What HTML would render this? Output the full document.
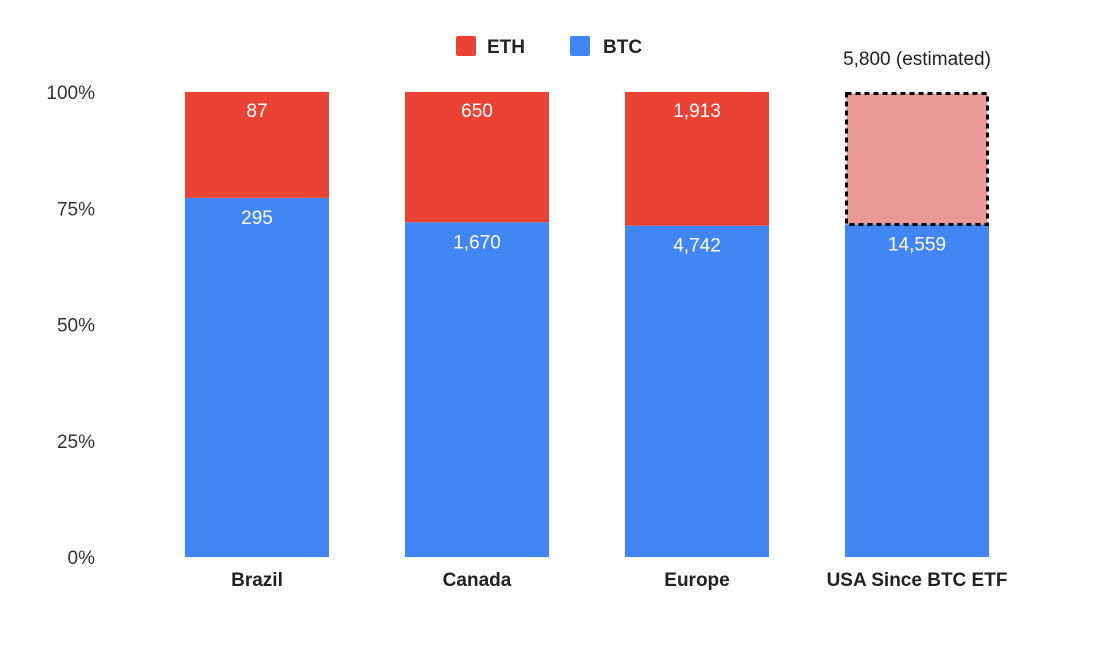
<!DOCTYPE html>
<html><head><meta charset="utf-8"><style>
body{margin:0;background:#fff;font-family:"Liberation Sans",Arial,sans-serif}
svg text{font-family:"Liberation Sans",Arial,sans-serif}
</style></head><body>
<svg id="chart" width="1106" height="651" xmlns="http://www.w3.org/2000/svg">
<rect width="1106" height="651" fill="#fff"/>
<g id="legend">
<rect x="456" y="36" width="20" height="20" rx="2" fill="#EA4335"/>
<text x="487" y="53" font-size="19" font-weight="bold" fill="#222">ETH</text>
<rect x="570" y="36" width="20" height="20" rx="2" fill="#4285F4"/>
<text x="603" y="53" font-size="19" font-weight="bold" fill="#222">BTC</text>
</g>
<g id="axis"></g><g id="bars"></g>
</svg>
<script>
const categories=["Brazil","Canada","Europe","USA Since BTC ETF"];
const btcValues=[295,1670,4742,14559];
const ethValues=[87,650,1913,5800];
const ethLabels=["87","650","1,913",""];
const btcLabels=["295","1,670","4,742","14,559"];
const estimated=[false,false,false,true];
const yTicks=[0,25,50,75,100];
const NS="http://www.w3.org/2000/svg";
const y0=557,y1=92,x0=185,step=220,bw=144;
const y=p=>y0-(y0-y1)*p/100;
const xb=i=>x0+i*step;
function mk(t,a,parent){const e=document.createElementNS(NS,t);for(const k in a)e.setAttribute(k,a[k]);parent.appendChild(e);return e;}
const ax=document.getElementById('axis'),bars=document.getElementById('bars');
yTicks.forEach(t=>{const e=mk('text',{x:95,y:y(t)+7,'text-anchor':'end','font-size':19,fill:'#333'},ax);e.textContent=t+'%';

});
categories.forEach((c,i)=>{
 const tot=btcValues[i]+ethValues[i];const bp=btcValues[i]/tot*100;
 const xi=xb(i);
 const b=mk('rect',{x:xi,y:y(bp),width:bw,height:y0-y(bp),fill:'#4285F4'},bars);
 
 
 let e;
 if(estimated[i]){
  e=mk('rect',{x:xi+1.5,y:y(100)+1.5,width:bw-3,height:y(bp)-y(100)-1.5,fill:'#EA9999',stroke:'#000','stroke-width':3,'stroke-dasharray':'5,4'},bars);
  const t=mk('text',{x:xi+bw/2,y:65,'text-anchor':'middle','font-size':19,fill:'#222'},bars);t.textContent=ethValues[i].toLocaleString('en-US')+' (estimated)';
  
  
 }else{
  e=mk('rect',{x:xi,y:y(100),width:bw,height:y(bp)-y(100),fill:'#EA4335'},bars);
  const t=mk('text',{x:xi+bw/2,y:y(100)+25,'text-anchor':'middle','font-size':19,fill:'#fff'},bars);t.textContent=ethLabels[i];
  
  
 }
 
 
 const bl=mk('text',{x:xi+bw/2,y:y(bp)+26,'text-anchor':'middle','font-size':19,fill:'#fff'},bars);bl.textContent=btcLabels[i];
 
 
 const cl=mk('text',{x:xi+bw/2,y:586,'text-anchor':'middle','font-size':19,'font-weight':'bold',fill:'#222'},ax);cl.textContent=c;
 
 
});
</script>
</body></html>
